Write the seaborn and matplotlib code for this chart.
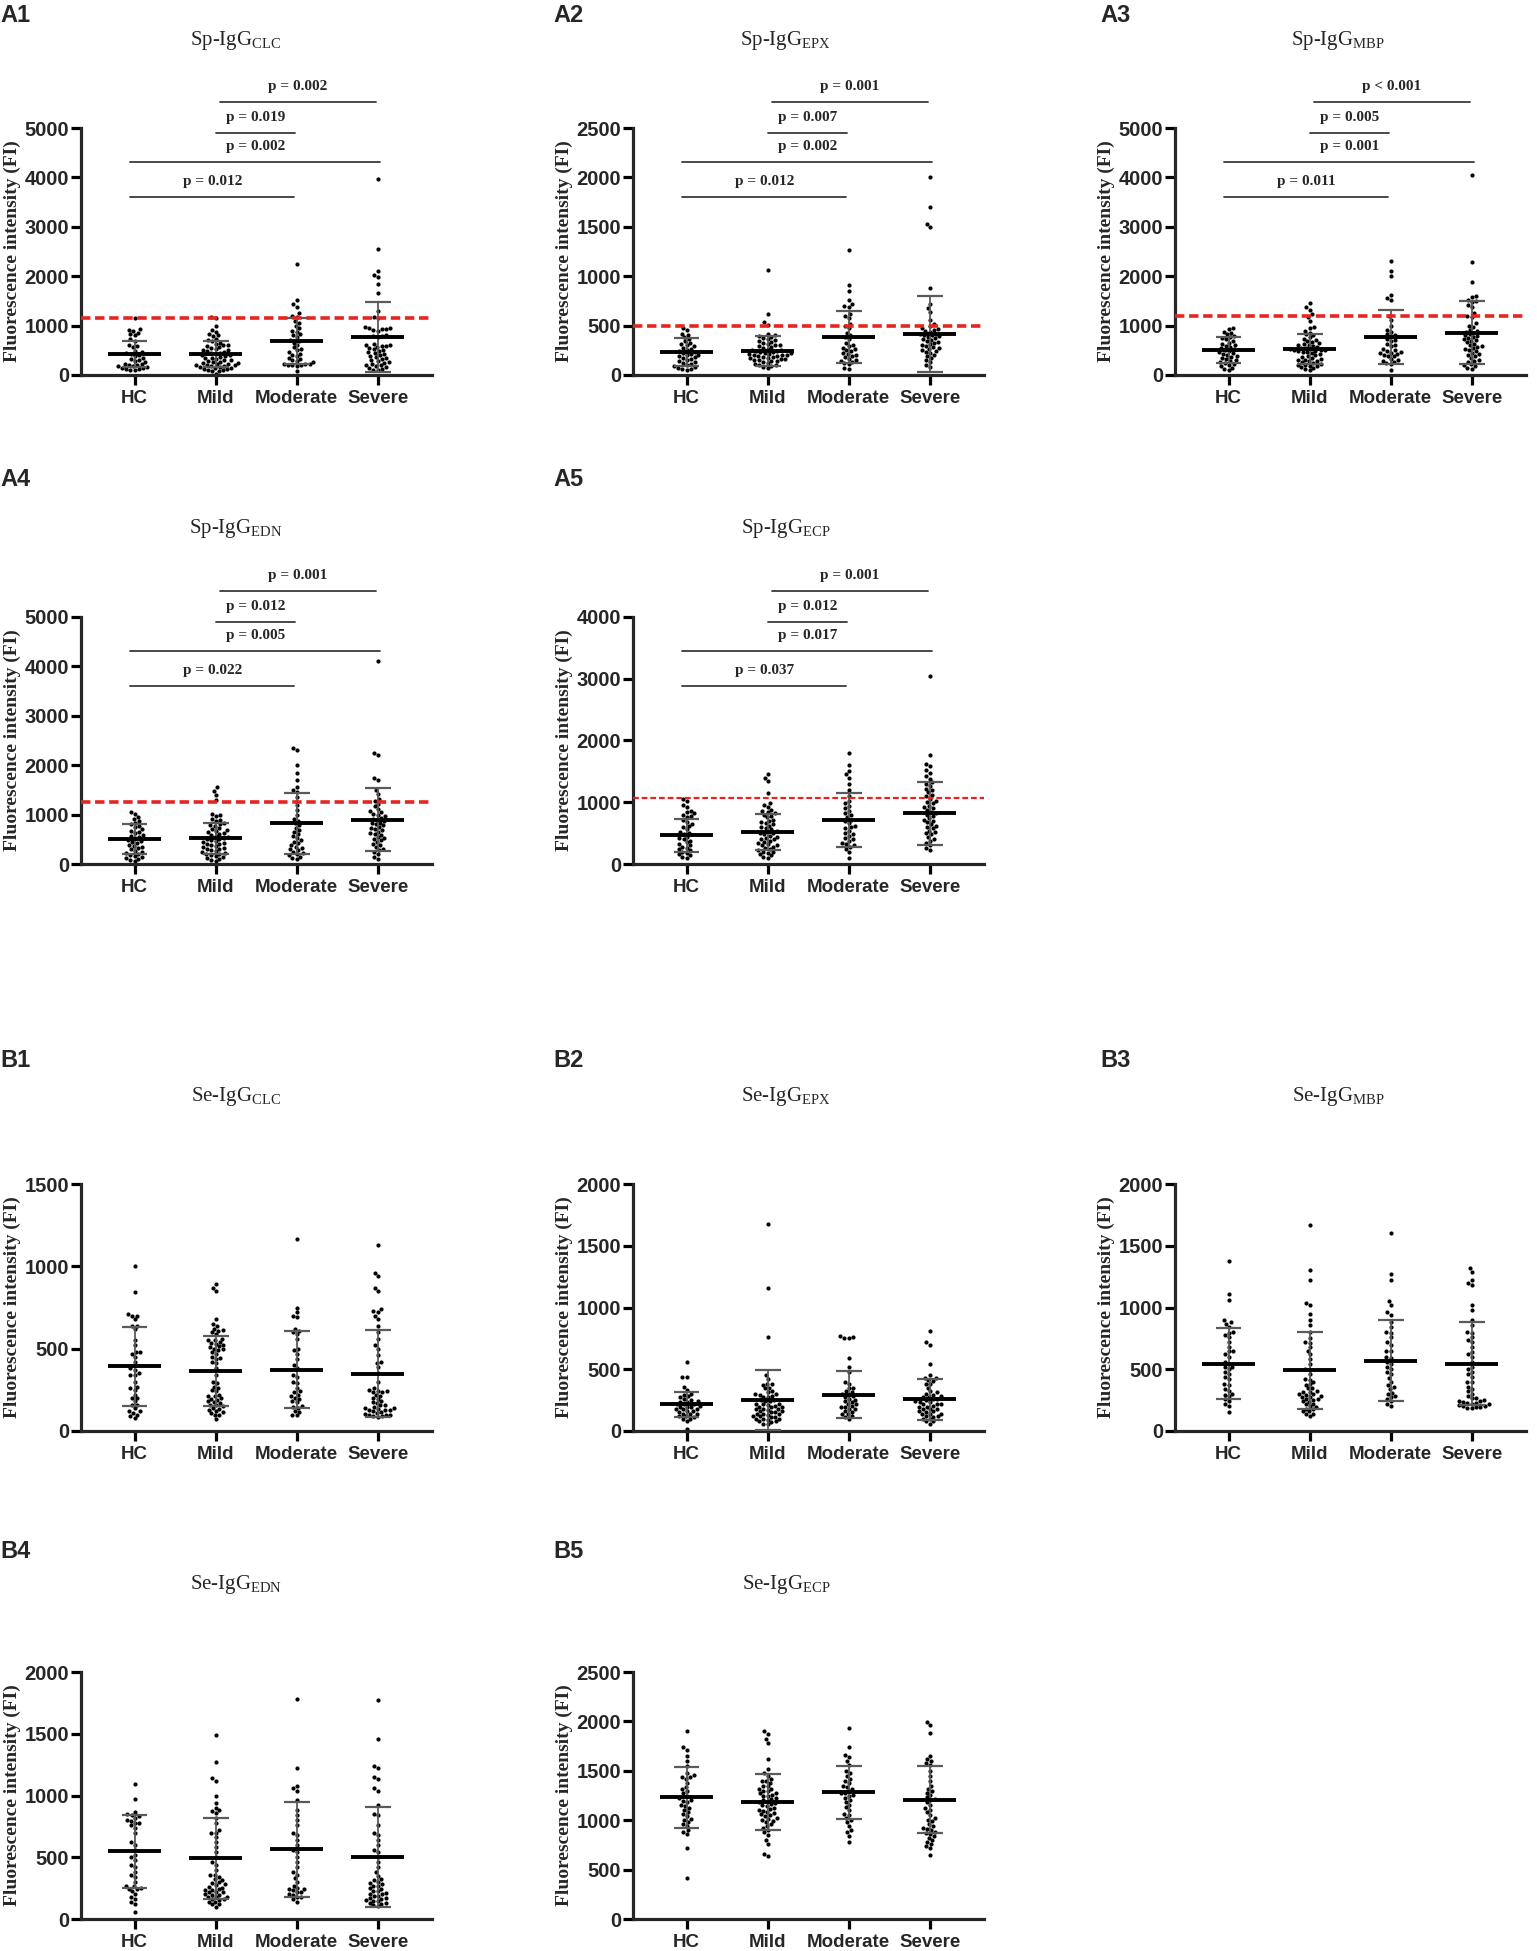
import matplotlib
matplotlib.use('Agg')
import numpy as np
import pandas as pd
import seaborn as sns
import matplotlib.pyplot as plt

sns.set_style('ticks')
plt.rcParams['font.family'] = ['Liberation Sans', 'DejaVu Sans']
plt.rcParams['mathtext.fontset'] = 'custom'
plt.rcParams['mathtext.rm'] = 'Liberation Serif'

groups = ['HC', 'Mild', 'Moderate', 'Severe']

# ---------------- Sp-IgG panels (A) ----------------
a1_hc = [1150, 930, 910, 890, 860, 820, 800, 720, 690, 600, 580, 560, 480, 460, 440, 420, 400, 380, 340, 320, 300, 280, 260, 230, 220, 210, 200, 190, 180, 160, 150, 140, 130, 120, 110, 100]
a1_mild = [1180, 1150, 1000, 920, 880, 820, 800, 780, 720, 700, 680, 650, 620, 600, 600, 580, 560, 540, 520, 500, 500, 480, 460, 450, 440, 420, 400, 400, 380, 360, 350, 340, 320, 300, 300, 280, 270, 260, 250, 240, 230, 220, 210, 200, 200, 190, 180, 170, 160, 150, 140, 130, 120, 110, 100, 90, 80, 30]
a1_mod = [2250, 1520, 1430, 1380, 1250, 1200, 1180, 1100, 1060, 1000, 950, 900, 880, 820, 800, 760, 700, 680, 650, 600, 560, 520, 500, 460, 420, 400, 380, 350, 320, 300, 280, 260, 230, 220, 220, 210, 200, 200, 190, 80]
a1_sev = [3970, 2550, 2100, 2020, 1980, 1850, 1650, 1300, 1180, 1150, 980, 960, 950, 940, 930, 920, 900, 800, 790, 780, 760, 620, 600, 600, 590, 580, 560, 550, 520, 500, 480, 460, 440, 420, 400, 380, 360, 340, 320, 300, 280, 260, 240, 220, 200, 200, 180, 160, 140, 120, 100, 100]
a1_mean = [425, 430, 690, 770]
a1_sd = [265, 260, 470, 700]

a2_hc = [480, 460, 420, 400, 380, 360, 340, 320, 310, 300, 290, 270, 260, 250, 240, 230, 220, 210, 200, 200, 190, 180, 170, 160, 150, 140, 130, 120, 110, 100, 90, 80, 70, 60, 60, 50]
a2_mild = [1060, 620, 540, 510, 420, 400, 390, 380, 370, 360, 350, 340, 330, 320, 310, 300, 300, 290, 280, 270, 260, 250, 250, 240, 240, 230, 230, 220, 220, 210, 210, 200, 200, 200, 190, 190, 180, 180, 170, 170, 160, 160, 150, 150, 140, 140, 130, 120, 110, 100, 100, 90, 80, 70]
a2_mod = [1270, 910, 850, 760, 720, 700, 690, 620, 600, 580, 520, 500, 480, 430, 400, 380, 360, 320, 300, 290, 270, 260, 250, 240, 220, 210, 200, 190, 180, 160, 150, 140, 130, 120, 110, 70, 60]
a2_sev = [2000, 1700, 1530, 1500, 880, 720, 680, 640, 560, 520, 500, 480, 470, 460, 450, 440, 420, 410, 400, 400, 390, 380, 370, 360, 350, 340, 330, 320, 310, 300, 290, 280, 270, 260, 250, 240, 230, 220, 200, 190, 170, 150, 130, 100, 80]
a2_mean = [233, 243, 385, 415]
a2_sd = [140, 152, 263, 380]

a3_hc = [960, 930, 880, 850, 820, 780, 760, 740, 720, 680, 650, 620, 600, 580, 560, 540, 520, 500, 480, 460, 440, 420, 400, 380, 360, 340, 320, 300, 280, 260, 240, 220, 200, 180, 150, 120, 100]
a3_mild = [1450, 1380, 1320, 1230, 1180, 1100, 980, 950, 900, 860, 820, 800, 760, 720, 700, 680, 660, 640, 620, 600, 600, 580, 560, 550, 540, 530, 520, 510, 500, 500, 490, 480, 470, 460, 440, 420, 400, 380, 360, 340, 320, 310, 300, 290, 280, 260, 240, 220, 210, 200, 190, 180, 160, 140, 120, 100]
a3_mod = [2300, 2100, 2000, 1620, 1560, 1520, 1200, 1120, 1000, 920, 880, 820, 800, 780, 720, 700, 680, 620, 600, 580, 520, 500, 480, 460, 450, 440, 430, 400, 390, 380, 320, 300, 280, 260, 240, 220, 100]
a3_sev = [4050, 2280, 1880, 1600, 1580, 1520, 1500, 1480, 1420, 1380, 1250, 1200, 1180, 1050, 1000, 980, 920, 900, 880, 860, 820, 800, 780, 760, 740, 720, 700, 680, 660, 620, 600, 580, 560, 540, 520, 500, 480, 440, 420, 400, 380, 340, 300, 280, 260, 220, 200, 180, 150, 130]
a3_mean = [506, 526, 770, 860]
a3_sd = [270, 300, 540, 640]

a4_hc = [1060, 1020, 960, 920, 870, 840, 800, 760, 740, 700, 660, 640, 620, 580, 560, 540, 520, 480, 460, 440, 420, 380, 360, 340, 320, 300, 260, 240, 220, 200, 180, 160, 140, 120, 100, 80, 60]
a4_mild = [1550, 1480, 1400, 1300, 1020, 1000, 980, 920, 900, 880, 820, 800, 780, 760, 720, 700, 680, 660, 640, 620, 600, 580, 560, 540, 520, 500, 500, 480, 460, 440, 420, 400, 400, 380, 360, 340, 320, 300, 300, 280, 260, 240, 220, 200, 200, 180, 160, 140, 120, 100, 80, 60]
a4_mod = [2350, 2300, 2000, 1850, 1700, 1550, 1500, 1450, 1350, 1200, 1100, 1000, 920, 880, 820, 780, 720, 680, 640, 600, 560, 520, 480, 450, 420, 380, 350, 320, 300, 280, 250, 220, 200, 180, 150, 120, 100]
a4_sev = [4100, 2250, 2200, 1750, 1700, 1500, 1420, 1320, 1280, 1220, 1180, 1120, 1080, 1050, 1020, 1000, 980, 940, 920, 900, 880, 840, 820, 800, 780, 740, 720, 700, 680, 640, 620, 600, 580, 540, 520, 500, 480, 440, 400, 380, 340, 300, 280, 240, 200, 150, 100]
a4_mean = [506, 520, 823, 897]
a4_sd = [305, 320, 615, 640]

a5_hc = [1060, 1020, 960, 920, 860, 840, 820, 800, 780, 760, 720, 680, 650, 620, 600, 560, 520, 500, 480, 440, 420, 400, 380, 350, 320, 300, 280, 260, 240, 220, 200, 180, 160, 140, 120, 100]
a5_mild = [1450, 1400, 1350, 1150, 980, 950, 920, 880, 860, 840, 820, 800, 780, 760, 720, 700, 680, 660, 640, 620, 600, 580, 560, 540, 520, 500, 500, 480, 460, 440, 420, 400, 400, 380, 360, 340, 320, 300, 300, 280, 260, 240, 220, 200, 200, 180, 160, 140, 120, 100]
a5_mod = [1800, 1600, 1500, 1450, 1400, 1300, 1200, 1100, 1020, 980, 940, 900, 860, 820, 800, 760, 720, 700, 660, 620, 600, 580, 540, 500, 480, 460, 420, 400, 380, 340, 320, 300, 280, 250, 200, 100]
a5_sev = [3050, 1770, 1620, 1580, 1520, 1480, 1420, 1380, 1320, 1300, 1260, 1220, 1200, 1160, 1120, 1100, 1060, 1020, 1000, 980, 940, 920, 900, 880, 840, 820, 800, 780, 740, 720, 700, 680, 640, 620, 600, 580, 540, 520, 500, 480, 440, 400, 380, 340, 300, 260, 220]
a5_mean = [464, 518, 713, 820]
a5_sd = [272, 290, 437, 510]

cutoffs = [1160, 500, 1200, 1250, 1070]

a1_p = ['p = 0.012', 'p = 0.002', 'p = 0.019', 'p = 0.002']
a2_p = ['p = 0.012', 'p = 0.002', 'p = 0.007', 'p = 0.001']
a3_p = ['p = 0.011', 'p = 0.001', 'p = 0.005', 'p < 0.001']
a4_p = ['p = 0.022', 'p = 0.005', 'p = 0.012', 'p = 0.001']
a5_p = ['p = 0.037', 'p = 0.017', 'p = 0.012', 'p = 0.001']

# ---------------- Se-IgG panels (B) ----------------
b1_hc = [1005, 845, 710, 700, 700, 680, 640, 640, 620, 550, 520, 480, 480, 470, 450, 420, 380, 370, 350, 340, 340, 300, 270, 260, 250, 220, 200, 200, 180, 160, 160, 140, 120, 120, 110, 100, 90, 80]
b1_mild = [890, 870, 850, 680, 650, 640, 620, 615, 610, 600, 590, 560, 555, 550, 540, 535, 530, 520, 515, 510, 500, 495, 490, 480, 470, 450, 445, 440, 420, 410, 380, 340, 300, 290, 270, 260, 250, 240, 220, 215, 210, 200, 195, 190, 180, 175, 170, 160, 155, 150, 140, 135, 130, 120, 115, 110, 100, 95, 70]
b1_mod = [1165, 750, 720, 700, 690, 620, 610, 600, 590, 560, 500, 490, 470, 440, 400, 380, 340, 330, 300, 290, 260, 240, 235, 220, 215, 200, 195, 180, 175, 150, 145, 140, 120, 115, 100, 95]
b1_sev = [1130, 960, 940, 870, 850, 740, 730, 725, 700, 680, 640, 600, 560, 520, 500, 460, 420, 415, 390, 350, 300, 260, 250, 245, 240, 238, 235, 220, 215, 200, 195, 180, 175, 170, 160, 155, 145, 140, 140, 135, 130, 130, 125, 120, 115, 110, 105, 100, 100, 95, 90, 90, 85]
b1_mean = [392, 365, 373, 349]
b1_sd = [240, 211, 236, 263]

b2_hc = [560, 440, 435, 360, 330, 300, 295, 280, 275, 260, 255, 240, 238, 235, 220, 218, 215, 200, 198, 195, 192, 180, 178, 175, 160, 158, 155, 140, 138, 135, 120, 118, 115, 100, 98, 80, 20]
b2_mild = [1680, 1160, 760, 450, 420, 380, 378, 375, 350, 345, 320, 318, 300, 298, 295, 280, 278, 275, 250, 248, 245, 242, 220, 218, 215, 212, 200, 198, 195, 192, 180, 178, 175, 172, 160, 158, 155, 152, 140, 138, 135, 132, 120, 118, 115, 112, 100, 98, 95, 92, 80, 78, 75, 60, 58]
b2_mod = [770, 760, 755, 750, 590, 520, 480, 400, 380, 350, 345, 320, 315, 300, 295, 280, 275, 260, 255, 240, 235, 220, 215, 200, 198, 195, 180, 175, 160, 155, 140, 135, 120, 115, 100]
b2_sev = [810, 720, 700, 540, 450, 430, 428, 410, 405, 380, 378, 350, 320, 315, 300, 295, 280, 278, 275, 260, 258, 255, 240, 238, 235, 220, 218, 215, 200, 198, 195, 180, 178, 175, 160, 158, 155, 140, 138, 135, 120, 118, 115, 100, 98, 80, 78, 60]
b2_mean = [216, 251, 292, 257]
b2_sd = [103, 246, 190, 167]

b3_hc = [1375, 1110, 1060, 900, 880, 870, 840, 800, 795, 780, 760, 720, 680, 650, 645, 620, 600, 560, 540, 520, 515, 500, 480, 460, 440, 420, 380, 375, 340, 320, 300, 295, 280, 260, 240, 220, 200, 150]
b3_mild = [1670, 1300, 1220, 1040, 1020, 950, 900, 860, 800, 750, 720, 715, 680, 650, 620, 580, 540, 500, 495, 460, 420, 415, 400, 380, 375, 350, 345, 320, 318, 315, 300, 298, 295, 280, 278, 275, 260, 258, 255, 240, 238, 220, 218, 200, 198, 180, 178, 160, 158, 140, 138, 120]
b3_mod = [1600, 1270, 1220, 1050, 1020, 960, 940, 880, 840, 800, 795, 760, 720, 700, 650, 645, 600, 595, 560, 540, 520, 500, 480, 460, 430, 400, 370, 360, 340, 310, 300, 280, 275, 260, 240, 220, 200]
b3_sev = [1320, 1290, 1220, 1200, 1180, 1020, 980, 900, 860, 800, 795, 760, 740, 720, 680, 640, 620, 600, 560, 520, 500, 480, 460, 440, 400, 395, 360, 340, 320, 300, 280, 270, 265, 250, 245, 240, 235, 230, 225, 220, 215, 210, 205, 200, 198, 195, 190, 185]
b3_mean = [546, 492, 570, 546]
b3_sd = [286, 313, 326, 335]

b4_hc = [1095, 970, 870, 850, 845, 830, 820, 800, 795, 780, 775, 760, 740, 700, 620, 600, 560, 520, 500, 480, 440, 420, 380, 360, 340, 300, 270, 265, 250, 245, 240, 230, 200, 180, 160, 140, 120, 60]
b4_mild = [1490, 1270, 1140, 1120, 1000, 940, 900, 880, 875, 860, 820, 780, 720, 700, 695, 660, 620, 580, 540, 500, 460, 440, 400, 360, 355, 340, 320, 315, 300, 295, 280, 275, 260, 255, 240, 238, 235, 220, 218, 215, 200, 198, 195, 180, 178, 175, 160, 158, 155, 140, 138, 120, 118, 100]
b4_mod = [1780, 1220, 1080, 1060, 1040, 960, 880, 840, 800, 760, 700, 680, 640, 600, 560, 540, 500, 460, 420, 380, 360, 330, 300, 270, 250, 245, 240, 235, 220, 215, 200, 195, 180, 175, 160, 140]
b4_sev = [1770, 1460, 1240, 1220, 1150, 1130, 1060, 1040, 920, 850, 840, 760, 700, 680, 640, 600, 560, 540, 500, 460, 420, 380, 350, 320, 315, 300, 295, 280, 270, 265, 250, 245, 230, 225, 210, 205, 200, 190, 185, 170, 168, 165, 150, 148, 145, 130, 128, 125, 110, 108]
b4_mean = [548, 491, 564, 505]
b4_sd = [295, 329, 386, 405]

b5_hc = [1900, 1740, 1710, 1650, 1600, 1550, 1480, 1460, 1440, 1435, 1420, 1380, 1340, 1320, 1300, 1280, 1250, 1220, 1200, 1195, 1180, 1150, 1140, 1120, 1100, 1080, 1060, 1040, 1010, 1000, 980, 960, 940, 900, 880, 860, 720, 410]
b5_mild = [1900, 1870, 1820, 1780, 1620, 1520, 1480, 1450, 1420, 1400, 1395, 1380, 1350, 1345, 1320, 1315, 1300, 1295, 1280, 1275, 1260, 1250, 1245, 1220, 1215, 1200, 1195, 1180, 1175, 1160, 1150, 1145, 1120, 1115, 1100, 1095, 1080, 1075, 1060, 1050, 1045, 1020, 1015, 1000, 995, 980, 960, 940, 920, 900, 880, 850, 800, 760, 660, 640]
b5_mod = [1930, 1740, 1660, 1640, 1600, 1560, 1500, 1480, 1450, 1420, 1400, 1380, 1350, 1340, 1320, 1300, 1280, 1275, 1260, 1250, 1220, 1200, 1180, 1150, 1130, 1100, 1060, 1050, 1020, 1000, 980, 940, 900, 880, 840, 780]
b5_sev = [1990, 1960, 1880, 1650, 1620, 1600, 1580, 1560, 1500, 1450, 1400, 1350, 1320, 1300, 1280, 1260, 1230, 1210, 1200, 1180, 1150, 1120, 1100, 1080, 1050, 1020, 1000, 990, 960, 940, 920, 910, 900, 880, 870, 860, 840, 820, 800, 780, 760, 740, 720, 650]
b5_mean = [1231, 1184, 1282, 1208]
b5_sd = [307, 287, 268, 342]

titles = ['Sp-IgG$_{\\mathrm{CLC}}$', 'Sp-IgG$_{\\mathrm{EPX}}$', 'Sp-IgG$_{\\mathrm{MBP}}$',
          'Sp-IgG$_{\\mathrm{EDN}}$', 'Sp-IgG$_{\\mathrm{ECP}}$',
          'Se-IgG$_{\\mathrm{CLC}}$', 'Se-IgG$_{\\mathrm{EPX}}$', 'Se-IgG$_{\\mathrm{MBP}}$',
          'Se-IgG$_{\\mathrm{EDN}}$', 'Se-IgG$_{\\mathrm{ECP}}$']
labels = ['A1', 'A2', 'A3', 'A4', 'A5', 'B1', 'B2', 'B3', 'B4', 'B5']
ymaxs = [5000, 2500, 5000, 5000, 4000, 1500, 2000, 2000, 2000, 2500]
ysteps = [1000, 500, 1000, 1000, 1000, 500, 500, 500, 500, 500]

values = [
    [a1_hc, a1_mild, a1_mod, a1_sev], [a2_hc, a2_mild, a2_mod, a2_sev],
    [a3_hc, a3_mild, a3_mod, a3_sev], [a4_hc, a4_mild, a4_mod, a4_sev],
    [a5_hc, a5_mild, a5_mod, a5_sev], [b1_hc, b1_mild, b1_mod, b1_sev],
    [b2_hc, b2_mild, b2_mod, b2_sev], [b3_hc, b3_mild, b3_mod, b3_sev],
    [b4_hc, b4_mild, b4_mod, b4_sev], [b5_hc, b5_mild, b5_mod, b5_sev],
]
means = [a1_mean, a2_mean, a3_mean, a4_mean, a5_mean, b1_mean, b2_mean, b3_mean, b4_mean, b5_mean]
sds = [a1_sd, a2_sd, a3_sd, a4_sd, a5_sd, b1_sd, b2_sd, b3_sd, b4_sd, b5_sd]
pvals = [a1_p, a2_p, a3_p, a4_p, a5_p]

# layout in pixels of the output image
W, H = 1537, 1951
col_left = [81, 633, 1175]
row_top = [128, 617, 1184, 1672]
title_x = [236, 786, 1338]
label_x = [0, 553, 1100]
label_y = [15, 480, 1060, 1551]
grid = [(0, 0), (0, 1), (0, 2), (1, 0), (1, 1), (2, 0), (2, 1), (2, 2), (3, 0), (3, 1)]
aw, ah = 351, 247

# significance bars: (start, end, height as axes fraction)
bar_spans = [(-0.05, 1.97, 0.72), (-0.05, 3.03, 0.862), (1.01, 1.98, 0.98), (1.05, 2.98, 1.105)]

fig = plt.figure(figsize=(W / 100, H / 100), dpi=100)

for i in range(10):
    r, c = grid[i]
    left, top = col_left[c], row_top[r]
    ax = fig.add_axes([left / W, 1 - (top + ah) / H, aw / W, ah / H])

    df = pd.DataFrame({
        'group': np.repeat(groups, [len(v) for v in values[i]]),
        'value': np.concatenate(values[i]),
    })
    sns.swarmplot(data=df, x='group', y='value', order=groups, color='black',
                  size=3.0, ax=ax, zorder=2, warn_thresh=1)

    xs = np.arange(4)
    m = np.array(means[i])
    s = np.array(sds[i])
    ax.vlines(xs, m - s, m + s, color='#5a5a5a', lw=1.3, zorder=3)
    ax.hlines(m + s, xs - 0.16, xs + 0.16, color='#5a5a5a', lw=1.6, zorder=3)
    ax.hlines(m - s, xs - 0.16, xs + 0.16, color='#5a5a5a', lw=1.6, zorder=3)
    ax.hlines(m, xs - 0.33, xs + 0.33, color='black', lw=2.8, zorder=4)

    if i < 5:
        lw = 1.6 if i == 4 else 2.6
        ax.axhline(cutoffs[i], color='#e52521', lw=lw, dashes=(2.6, 1.3), zorder=5)
        tr = ax.get_xaxis_transform()
        for (x0, x1, yf), txt in zip(bar_spans, pvals[i]):
            ax.plot([x0, x1], [yf, yf], transform=tr, clip_on=False, color='#3a3a3a', lw=1.3)
            ax.text((x0 + x1) / 2, yf + 0.062, txt, transform=tr, ha='center', va='center',
                    fontfamily='Liberation Serif', fontweight='bold', fontsize=11)
    else:
        # faint dotted baseline under the x axis, as in the Se panels
        ax.plot([-0.66, 3.67], [0, 0], transform=ax.get_xaxis_transform(), clip_on=False,
                color='#888888', lw=0.8, ls=(0, (1, 1.5)), zorder=1)

    ax.set_xlim(-0.66, 3.67)
    ax.set_ylim(0, ymaxs[i])
    ax.set_yticks(np.arange(0, ymaxs[i] + 1, ysteps[i]))
    ax.set_xlabel('')
    ax.set_ylabel('Fluorescence intensity (FI)', fontfamily='Liberation Serif',
                  fontweight='bold', fontsize=14)
    ax.yaxis.set_label_coords(-0.172, 0.5)
    sns.despine(ax=ax)
    for sp in ['left', 'bottom']:
        ax.spines[sp].set_linewidth(2.3)
    ax.tick_params(axis='both', width=2.3, length=7, color='black')
    ax.tick_params(axis='y', labelsize=14.5, pad=1.5)
    ax.tick_params(axis='x', labelsize=13.5, pad=4)
    for lab in ax.get_xticklabels() + ax.get_yticklabels():
        lab.set_fontweight('bold')

    fig.text(title_x[c] / W, 1 - (top - 88) / H, titles[i], ha='center', va='center',
             fontfamily='Liberation Serif', fontsize=15)
    fig.text(label_x[c] / W, 1 - label_y[r] / H, labels[i], ha='left', va='center',
             fontweight='bold', fontsize=17)

fig.savefig('out.png', dpi=100)
